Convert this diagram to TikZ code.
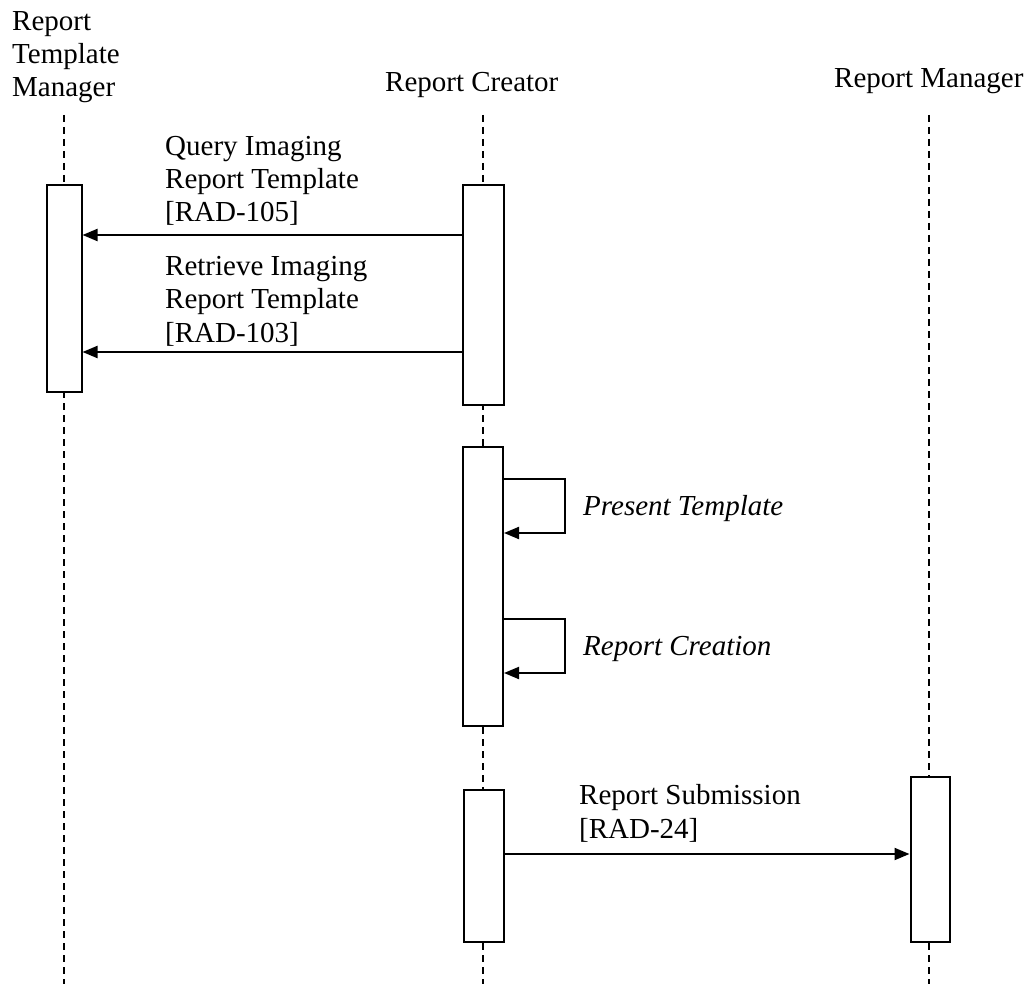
\documentclass[tikz,border=0pt]{standalone}
\usepackage{fontspec}
\setmainfont{Liberation Serif}
\usetikzlibrary{arrows.meta}

\tikzset{
  lbl/.style={anchor=base west, inner sep=0pt, align=left, font=\fontsize{29}{33.3}\selectfont},
  actbox/.style={draw, fill=white, line width=2pt, anchor=north, minimum width=40pt, inner sep=0pt},
  lifeline/.style={line width=2pt, dash pattern=on 7pt off 5pt},
  msg/.style={line width=2pt, -{Triangle[length=15pt,width=12pt]}},
}

\begin{document}
\begin{tikzpicture}[x=1pt,y=-1pt]
\useasboundingbox (0,0) rectangle (1033,984);

% actors (base = last line)
\node[lbl] (tmgr) at (12,97) {Report\\Template\\Manager};
\node[lbl] (creator) at (385,92) {Report Creator};
\node[lbl] (rmgr) at (834,88) {Report Manager};

% lifelines
\coordinate (tmtop) at (64,115);
\coordinate (tmbot) at (64,984);
\coordinate (rctop) at (483,115);
\coordinate (rcbot) at (483,984);
\coordinate (rmtop) at (929,115);
\coordinate (rmbot) at (929,984);
\draw[lifeline] (tmtop) -- (tmbot);
\draw[lifeline] (rctop) -- (rcbot);
\draw[lifeline] (rmtop) -- (rmbot);

% activation boxes
\node[actbox, minimum width=35pt, minimum height=207pt] (tmbox) at (64,184) {};
\node[actbox, minimum width=41pt, minimum height=220pt] (rcboxa) at (483,184) {};
\node[actbox, minimum height=279pt] (rcboxb) at (483,446) {};
\node[actbox, minimum height=152pt] (rcboxc) at (484,789) {};
\node[actbox, minimum width=39pt, minimum height=165pt] (rmbox) at (930,776) {};

% messages
\draw[msg] (rcboxa.west |- 0,235) -- (tmbox.east |- 0,235);
\node[lbl] (query) at (165,222) {Query Imaging\\Report Template\\{[RAD-105]}};
\draw[msg] (rcboxa.west |- 0,352) -- (tmbox.east |- 0,352);
\node[lbl] (retrieve) at (165,342) {Retrieve Imaging\\Report Template\\{[RAD-103]}};

% internal steps
\draw[msg] (rcboxb.east |- 0,479) -- ++(61,0) -- ++(0,54) -- (rcboxb.east |- 0,533);
\node[lbl, font=\fontsize{29}{33}\selectfont\itshape] (present) at (583,515) {Present Template};
\draw[msg] (rcboxb.east |- 0,619) -- ++(61,0) -- ++(0,54) -- (rcboxb.east |- 0,673);
\node[lbl, font=\fontsize{29}{33}\selectfont\itshape] (creation) at (583,655) {Report Creation};

% submission
\draw[msg] (rcboxc.east |- 0,854) -- (rmbox.west |- 0,854);
\node[lbl] (submit) at (579,838) {Report Submission\\{[RAD-24]}};
\end{tikzpicture}
\end{document}
